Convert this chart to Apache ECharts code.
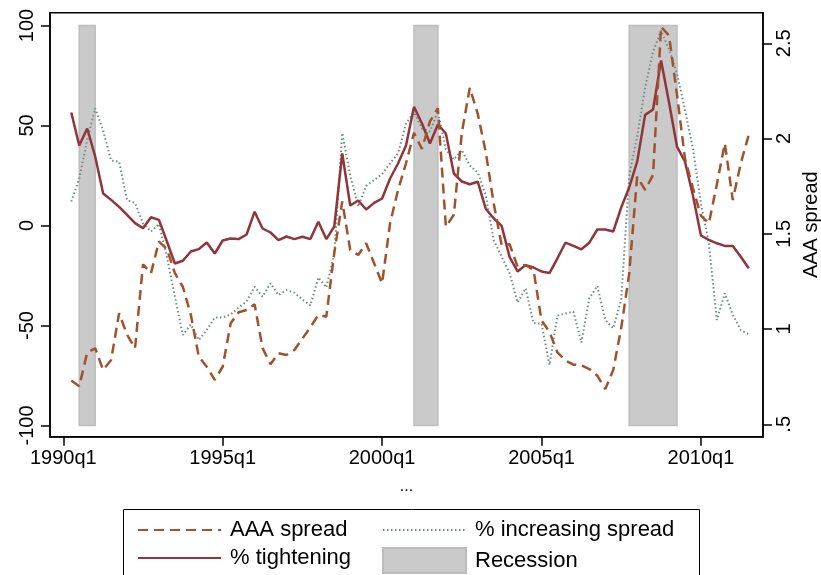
<!DOCTYPE html>
<html>
<head>
<meta charset="utf-8">
<script src="https://cdn.jsdelivr.net/npm/echarts@6/dist/echarts.min.js"></script>
<style>
html, body { margin: 0; padding: 0; background: #fff; }
#chart { width: 821px; height: 575px; }
</style>
</head>
<body>
<div id="chart"></div>
<script>
// quarterly data, first observation 1990q2
var firstQuarter = '1990q2';

// % of banks tightening standards (left axis)
var tightening = [
    56.5, 40, 48.5, 34.5, 16, 12.8, 9.3, 5.3, 1.2, -1.4,
    4.1, 2.8, -8, -19, -17.6, -13, -11.8, -8.5, -14, -7.5,
    -6.5, -6.8, -4.5, 6.9, -1.5, -3.5, -7.3, -5.5, -6.8, -5.6,
    -6.8, 1.9, -6.8, -0.5, 36, 10, 12.5, 8, 11.3, 13.5,
    23.5, 31, 40, 59.4, 51, 41, 50.5, 46, 26, 22,
    20.6, 21.9, 8.4, 3.6, -0.2, -15.8, -23, -19.8, -21, -23,
    -23.8, -16.4, -8.6, -10.2, -11.9, -8.6, -2, -2, -3, 9,
    19, 31.9, 55.3, 58, 82.5, 61.5, 39.4, 31.9, 15, -5,
    -7.2, -8.9, -10.2, -10.2, -15.6, -21.4
];

// % of banks increasing spreads (left axis)
var increasingSpread = [
    12, 23.5, 42.75, 58.6, 47.5, 32.5, 31.9, 12.75, 11.2, 1,
    -3, 0.8, -15.6, -35.6, -54.75, -49.5, -57.25, -52.25, -46, -46,
    -44.5, -41, -38, -30.6, -35.6, -28.9, -34.75, -32.3, -33.6, -37,
    -40, -26, -31, -14.3, 46.2, 25, 9.5, 19.8, 22.75, 25.7,
    31.1, 36.1, 51, 56.5, 48.5, 47, 57, 38, 33, 37.75,
    30, 26.5, 15.2, -7.25, -15.6, -23.9, -38.5, -31.4, -48.9, -49,
    -69.75, -45, -44, -43.1, -58.5, -36.4, -30.2, -47.25, -51.4, -37,
    25, 44.4, 69, 87, 97.5, 88, 76, 57.75, 38.5, 11.1,
    -9, -47.25, -33.9, -44.7, -52.25, -54.5
];

// AAA spread (right axis)
var aaaSpread = [
    0.73, 0.70, 0.877, 0.899, 0.785, 0.838, 1.083, 0.97, 0.899, 1.34,
    1.293, 1.459, 1.42, 1.293, 1.222, 1.075, 0.855, 0.802, 0.733, 0.802,
    1.03, 1.088, 1.1, 1.13, 0.9, 0.815, 0.873, 0.864, 0.89, 0.95,
    1.01, 1.074, 1.065, 1.4, 1.67, 1.415, 1.389, 1.45, 1.345, 1.24,
    1.555, 1.73, 1.87, 2.03, 1.945, 2.09, 2.159, 1.537, 1.6, 2.03,
    2.266, 2.13, 1.93, 1.66, 1.44, 1.445, 1.327, 1.336, 1.31, 1.045,
    0.985, 0.877, 0.835, 0.813, 0.81, 0.79, 0.755, 0.685, 0.785, 1.005,
    1.29, 1.8, 1.73, 1.81, 2.587, 2.54, 2.23, 1.895, 1.74, 1.595,
    1.555, 1.76, 1.975, 1.677, 1.87, 2.019
];

var recessions = [['1990q3', '1991q1'], ['2001q1', '2001q4'], ['2007q4', '2009q2']];
var recessionRange = [-100, 100];

var xTickLabels = ['1990q1', '1995q1', '2000q1', '2005q1', '2010q1'];
var leftTicks = [-100, -50, 0, 50, 100];
var rightTicks = [0.5, 1, 1.5, 2, 2.5];

// quarters counted from 1990q1
function qIndex(s) {
    return (parseInt(s.slice(0, 4), 10) - 1990) * 4 + parseInt(s.slice(5), 10) - 1;
}
function qLabel(i) {
    return (1990 + Math.floor(i / 4)) + 'q' + (i % 4 + 1);
}

var start = qIndex(firstQuarter);
function toPoints(arr) {
    return arr.map(function (v, i) { return [start + i, v]; });
}

var font = 'Liberation Sans, Arial, sans-serif';
var labelStyle = { color: '#000', fontSize: 20, fontFamily: font };
var axisLine = { show: true, onZero: false, lineStyle: { color: '#000', width: 1.5 } };

// one legend block per entry so the 2x2 layout matches the original
function legendAt(name, left, top, icon) {
    return {
        orient: 'horizontal', left: left, top: top,
        itemWidth: 83, itemHeight: 25,
        selectedMode: false,
        icon: icon,
        itemStyle: icon ? {} : { opacity: 0 },
        textStyle: { color: '#000', fontSize: 22, fontFamily: font, padding: [0, 0, 0, 4] },
        data: [name]
    };
}

var myChart = echarts.init(document.getElementById('chart'), null, { renderer: 'canvas' });

var option = {
    animation: false,
    backgroundColor: '#fff',
    grid: {
        left: 50, right: 58, top: 12.7, bottom: 138.3,
        outerBoundsMode: 'none',
        containLabel: false,
        show: true, borderColor: '#000', borderWidth: 1.5
    },
    legend: [
        legendAt('AAA spread', 132, 514),
        legendAt('% tightening', 132, 542),
        legendAt('% increasing spread', 377, 514),
        legendAt('Recession', 377, 542, 'rect')
    ],
    graphic: [{
        type: 'rect',
        left: 121, top: 507,
        shape: { width: 576, height: 90 },
        style: { fill: 'none', stroke: '#000', lineWidth: 1 },
        silent: true
    }],
    xAxis: {
        type: 'value',
        min: -1.669, max: 87.79,
        axisLine: axisLine,
        splitLine: { show: false },
        axisTick: {
            customValues: xTickLabels.map(qIndex),
            length: 9, lineStyle: { color: '#000', width: 1.5 }
        },
        axisLabel: Object.assign({
            customValues: xTickLabels.map(qIndex),
            formatter: function (v) { return qLabel(v); },
            margin: 12
        }, labelStyle),
        name: '...',
        nameLocation: 'middle',
        nameGap: 42,
        nameTextStyle: { color: '#000', fontSize: 16, fontFamily: font }
    },
    yAxis: [
        {
            type: 'value', position: 'left',
            min: -105.6, max: 106.4,
            axisLine: axisLine,
            splitLine: { show: false },
            axisTick: { customValues: leftTicks, length: 9, lineStyle: { color: '#000', width: 1.5 } },
            axisLabel: Object.assign({ customValues: leftTicks, rotate: 90, margin: 13 }, labelStyle)
        },
        {
            type: 'value', position: 'right',
            min: 0.4349, max: 2.6606,
            axisLine: axisLine,
            splitLine: { show: false },
            axisTick: { customValues: rightTicks, length: 9, lineStyle: { color: '#000', width: 1.5 } },
            axisLabel: Object.assign({
                customValues: rightTicks, rotate: 90, margin: 11,
                formatter: function (v) { return v < 1 ? String(v).replace(/^0/, '') : String(v); }
            }, labelStyle),
            name: 'AAA spread',
            nameLocation: 'middle',
            nameRotate: 90,
            nameGap: 38,
            nameTextStyle: { color: '#000', fontSize: 20, fontFamily: font }
        }
    ],
    series: [
        {
            name: 'Recession',
            type: 'custom',
            xAxisIndex: 0, yAxisIndex: 0,
            z: 1,
            itemStyle: { color: '#cacaca', borderColor: '#bdbdbd', borderWidth: 1.5 },
            data: recessions.map(function (r) { return [qIndex(r[0]), qIndex(r[1])]; }),
            renderItem: function (params, api) {
                var p0 = api.coord([api.value(0), recessionRange[1]]);
                var p1 = api.coord([api.value(1), recessionRange[0]]);
                return {
                    type: 'rect',
                    shape: { x: p0[0], y: p0[1], width: p1[0] - p0[0], height: p1[1] - p0[1] },
                    style: { fill: '#cacaca', stroke: '#bdbdbd', lineWidth: 1.5 }
                };
            }
        },
        {
            name: '% increasing spread',
            type: 'line',
            yAxisIndex: 0,
            symbol: 'none',
            z: 2,
            lineStyle: { color: '#6e8e84', width: 2, type: [1.5, 2.5] },
            itemStyle: { color: '#6e8e84' },
            data: toPoints(increasingSpread)
        },
        {
            name: '% tightening',
            type: 'line',
            yAxisIndex: 0,
            symbol: 'none',
            z: 3,
            lineStyle: { color: '#90353b', width: 2.5 },
            itemStyle: { color: '#90353b' },
            data: toPoints(tightening)
        },
        {
            name: 'AAA spread',
            type: 'line',
            yAxisIndex: 1,
            symbol: 'none',
            z: 4,
            lineStyle: { color: '#a0522d', width: 2.5, type: [10, 6] },
            itemStyle: { color: '#a0522d' },
            data: toPoints(aaaSpread)
        }
    ]
};

myChart.setOption(option);
</script>
</body>
</html>
